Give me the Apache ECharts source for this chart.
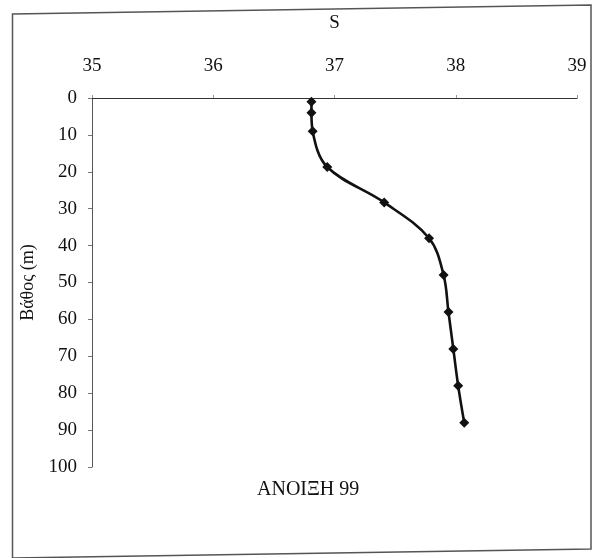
<!DOCTYPE html>
<html>
<head>
<meta charset="utf-8">
<style>
  html, body { margin: 0; padding: 0; background: #ffffff; }
  #chart { width: 597px; height: 558px; }
</style>
<script src="https://cdn.jsdelivr.net/npm/echarts@6/dist/echarts.min.js"></script>
</head>
<body>
<div id="chart"></div>
<script>
// Salinity profile, spring 1999
const salinity = [36.81, 36.81, 36.82, 36.94, 37.41, 37.78, 37.90, 37.94, 37.98, 38.02, 38.07];
const depth    = [1, 4, 9, 18.7, 28.3, 38, 48, 58, 68, 78, 88];
const sTicks = [35, 36, 37, 38, 39];
const depthTicks = [0, 10, 20, 30, 40, 50, 60, 70, 80, 90, 100];
const seasonLabel = 'ΑΝΟΙΞΗ 99';

const serif = '"Liberation Serif", "DejaVu Serif", serif';
const chart = echarts.init(document.getElementById('chart'), null, { renderer: 'canvas' });

chart.setOption({
  backgroundColor: '#ffffff',
  animation: false,
  grid: { left: 92, top: 98, width: 485, height: 369, containLabel: false },
  xAxis: {
    type: 'value',
    position: 'top',
    min: sTicks[0],
    max: sTicks[sTicks.length - 1],
    interval: 1,
    name: 'S',
    nameLocation: 'middle',
    nameGap: 65,
    nameTextStyle: { fontFamily: serif, fontSize: 19, color: '#111' },
    axisLine: { show: true, lineStyle: { color: '#333', width: 1.2 } },
    axisTick: { show: true, inside: false, length: 3, lineStyle: { color: '#999' } },
    axisLabel: { margin: 22, fontFamily: serif, fontSize: 19, color: '#111' },
    splitLine: { show: false }
  },
  yAxis: {
    type: 'value',
    inverse: true,
    min: depthTicks[0],
    max: depthTicks[depthTicks.length - 1],
    interval: 10,
    name: 'Βάθος (m)',
    nameLocation: 'middle',
    nameGap: 53,
    nameRotate: 90,
    nameTextStyle: { fontFamily: serif, fontSize: 18, color: '#111' },
    axisLine: { show: true, lineStyle: { color: '#555', width: 1 } },
    axisTick: { show: true, inside: false, length: 4, lineStyle: { color: '#777' } },
    axisLabel: { margin: 15, fontFamily: serif, fontSize: 19, color: '#111' },
    splitLine: { show: false }
  },
  series: [{
    type: 'line',
    data: salinity.map((s, i) => [s, depth[i]]),
    smooth: 0.35,
    symbol: 'diamond',
    symbolSize: 10,
    lineStyle: { color: '#111', width: 2.6 },
    itemStyle: { color: '#111' }
  }],
  graphic: [
    {
      type: 'polygon',
      shape: { points: [[12.5, 14], [591, 5], [591, 549], [12.5, 558]] },
      style: { fill: 'none', stroke: '#555', lineWidth: 1.5 },
      silent: true
    },
    {
      type: 'text',
      left: 257,
      top: 480,
      style: { text: seasonLabel, font: '20px ' + serif, fill: '#111' }
    }
  ]
});
</script>
</body>
</html>
